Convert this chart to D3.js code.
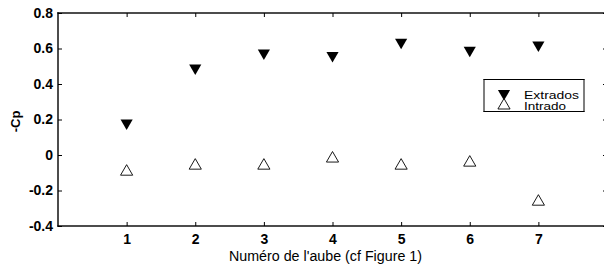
<!DOCTYPE html>
<html>
<head>
<meta charset="utf-8">
<script src="https://cdn.jsdelivr.net/npm/d3@7"></script>
<style>
    body { margin: 0; background: #fff; }
    svg { display: block; }
    text { font-family: "Liberation Sans", Arial, sans-serif; }
</style>
</head>
<body>
<div id="chart"></div>
<script>
// numéro de l'aube
const aubes = [1, 2, 3, 4, 5, 6, 7];
const extrados = [0.18, 0.49, 0.575, 0.56, 0.635, 0.59, 0.62];
const intrado = [-0.094, -0.06, -0.06, -0.02, -0.06, -0.043, -0.263];
const yTicks = [-0.4, -0.2, 0, 0.2, 0.4, 0.6, 0.8];
const yTickLabels = ['-0.4', '-0.2', '0', '0.2', '0.4', '0.6', '0.8'];
const legendLabels = ['Extrados', 'Intrado'];

const W = 604, H = 269;
const mLeft = 58, mTop = 13, mRight = 607, mBottom = 226;

const svg = d3.select('#chart').append('svg')
    .attr('width', W)
    .attr('height', H);

const x = d3.scaleLinear().domain([0, 8]).range([mLeft, mRight]);
const y = d3.scaleLinear().domain([-0.4, 0.8]).range([mBottom, mTop]);

// cadre : 4 bandes pleines
function frame(g, x0, y0, x1, y1, w) {
    const bands = [
        [x0 - w / 2, y0 - w / 2, x1 - x0 + w, w],
        [x0 - w / 2, y1 - w / 2, x1 - x0 + w, w],
        [x0 - w / 2, y0 - w / 2, w, y1 - y0 + w],
        [x1 - w / 2, y0 - w / 2, w, y1 - y0 + w],
    ];
    g.selectAll(null)
        .data(bands)
        .enter()
        .append('rect')
        .attr('x', d => d[0]).attr('y', d => d[1])
        .attr('width', d => d[2]).attr('height', d => d[3])
        .style('fill', '#000');
}
frame(svg, mLeft, mTop, mRight, mBottom, 1.4);

// axes, ticks inside like matlab
const tickLen = 4;
const axes = [
    [d3.axisBottom(x).tickValues(aubes).tickPadding(8), `translate(0,${mBottom})`],
    [d3.axisTop(x).tickValues(aubes).tickFormat(''), `translate(0,${mTop})`],
    [d3.axisLeft(y).tickValues(yTicks).tickPadding(5).tickFormat((d, i) => yTickLabels[i]), `translate(${mLeft},0)`],
    [d3.axisRight(y).tickValues(yTicks).tickFormat(''), `translate(${mRight},0)`],
];
axes.forEach(a => {
    const g = svg.append('g')
        .attr('transform', a[1])
        .call(a[0].tickSizeInner(-tickLen).tickSizeOuter(0));
    g.select('.domain').remove();
    g.selectAll('.tick line').style('stroke', '#000');
    g.selectAll('.tick text')
        .style('fill', '#000')
        .style('font-size', '14px')
        .style('font-weight', 'bold');
});

const tri = d3.symbol().type(d3.symbolTriangle).size(64);

svg.selectAll('.ext')
    .data(aubes)
    .enter()
    .append('path')
    .attr('class', 'ext')
    .attr('d', tri)
    .attr('transform', (d, i) => `translate(${x(d)},${y(extrados[i])}) rotate(180)`)
    .style('fill', '#000');

svg.selectAll('.int')
    .data(aubes)
    .enter()
    .append('path')
    .attr('class', 'int')
    .attr('d', tri)
    .attr('transform', (d, i) => `translate(${x(d)},${y(intrado[i])})`)
    .style('fill', '#fff')
    .style('stroke', '#000')
    .style('stroke-width', '0.9px');

// labels
svg.append('text')
    .attr('x', 229)
    .attr('y', 261)
    .attr('textLength', 193)
    .attr('lengthAdjust', 'spacingAndGlyphs')
    .style('font-size', '14px')
    .text("Numéro de l'aube (cf Figure 1)");

svg.append('text')
    .attr('transform', `translate(20,${(mTop + mBottom) / 2 + 2}) rotate(-90)`)
    .attr('text-anchor', 'middle')
    .style('font-size', '13px')
    .style('font-weight', 'bold')
    .text('-Cp');

// légende
const lg = svg.append('g').attr('transform', 'translate(484,79.5)');
lg.append('rect')
    .attr('width', 100)
    .attr('height', 32)
    .style('fill', '#fff');
frame(lg, 0, 0, 100, 32, 1);
lg.append('path')
    .attr('d', tri)
    .attr('transform', 'translate(20,14) rotate(180)')
    .style('fill', '#000');
lg.append('path')
    .attr('d', tri)
    .attr('transform', 'translate(20,26)')
    .style('fill', '#fff').style('stroke', '#000').style('stroke-width', '0.9px');
lg.selectAll('.lt')
    .data(legendLabels)
    .enter()
    .append('text')
    .attr('class', 'lt')
    .attr('x', 40)
    .attr('y', (d, i) => 19.5 + i * 10.5)
    .attr('textLength', (d, i) => [55, 42][i])
    .attr('lengthAdjust', 'spacingAndGlyphs')
    .style('font-size', '11.5px')
    .text(d => d);
</script>
</body>
</html>
